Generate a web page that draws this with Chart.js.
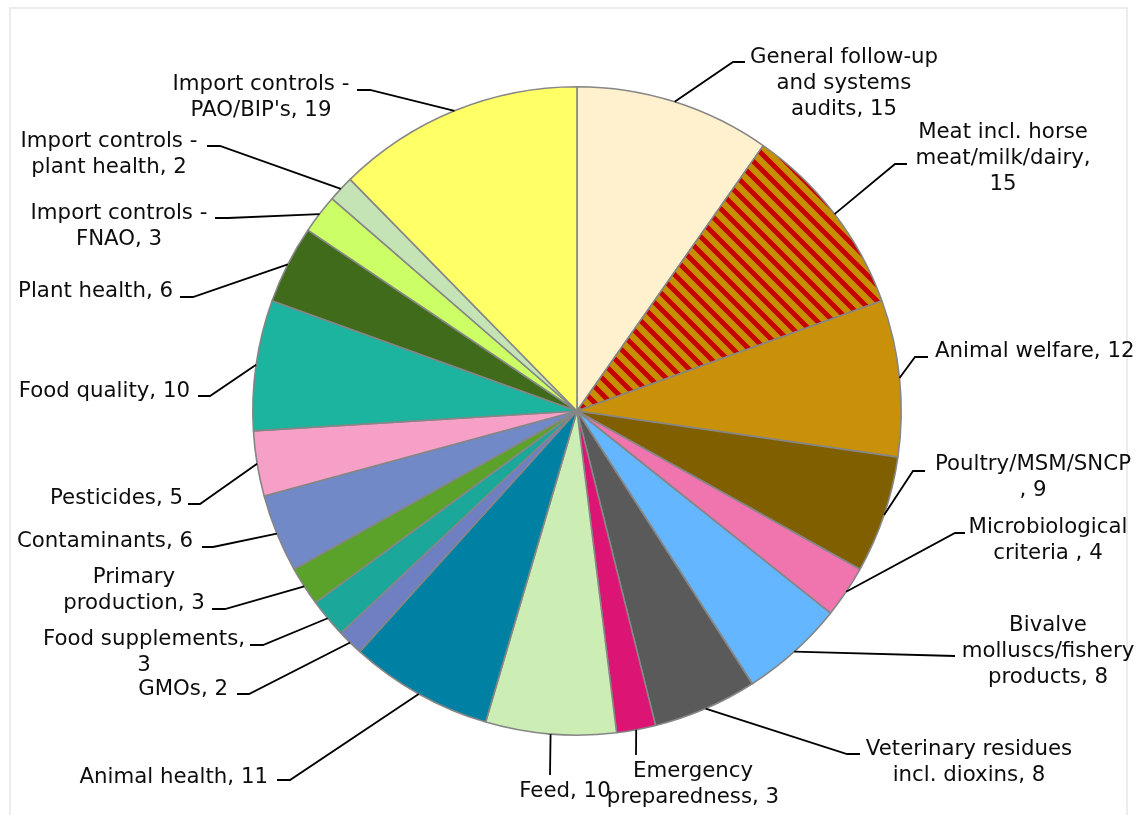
<!DOCTYPE html>
<html>
<head>
<meta charset="utf-8">
<script src="https://cdn.jsdelivr.net/npm/chart.js@4.4.0/dist/chart.umd.min.js"></script>
<style>
  html, body { margin: 0; padding: 0; background: #fff; }
  #frame {
    position: absolute; left: 9px; top: 7px; width: 1119px; height: 830px;
    border: 2px solid #ececec; box-sizing: border-box;
  }
  #pieChart { position: absolute; left: 0; top: 0; }
</style>
</head>
<body>
<div id="frame"></div>
<canvas id="pieChart" width="1136" height="815"></canvas>
<script>
  // Audit areas, clockwise from 12 o'clock (\n = where the label wraps)
  const categories = [
    'General follow-up\nand systems\naudits',
    'Meat incl. horse\nmeat/milk/dairy',
    'Animal welfare',
    'Poultry/MSM/SNCP',
    'Microbiological\ncriteria ',
    'Bivalve\nmolluscs/fishery\nproducts',
    'Veterinary residues\nincl. dioxins',
    'Emergency\npreparedness',
    'Feed',
    'Animal health',
    'GMOs',
    'Food supplements',
    'Primary\nproduction',
    'Contaminants',
    'Pesticides',
    'Food quality',
    'Plant health',
    'Import controls -\nFNAO',
    'Import controls -\nplant health',
    "Import controls -\nPAO/BIP's"
  ];

  const auditCounts = [15, 15, 12, 9, 4, 8, 8, 3, 10, 11, 2, 3, 3, 6, 5, 10, 6, 3, 2, 19];

  const sliceColors = [
    '#FFF0CE', 'hatch', '#C89109', '#7F5F00', '#F074AE',
    '#63B6FF', '#5A5A5A', '#DC1474', '#CCEDB4', '#0080A2',
    '#6F80C2', '#1BA89A', '#5BA22A', '#7289C8', '#F6A0C8',
    '#1CB39F', '#3F6B1B', '#CCFF66', '#C5E4B6', '#FFFF66'
  ];

  // Label placement, offsets in px from the pie centre.
  // elbow/tip describe the leader line; elbow null = straight line.
  const labelLayout = [
    { text: [267, -348], align: 'center', elbow: [156, -349], tip: [168, -349] },
    { text: [426, -273], align: 'center', elbow: [318, -247], tip: [330, -247], sep: ',\n' },
    { text: [358, -54], align: 'left', elbow: [338, -54], tip: [351, -54] },
    { text: [456, 59], align: 'center', elbow: [336, 60], tip: [348, 60], sep: '\n, ' },
    { text: [471, 122], align: 'center', elbow: [378, 122], tip: [388, 122] },
    { text: [471, 220], align: 'center', elbow: null, tip: [378, 245] },
    { text: [392, 344], align: 'center', elbow: [270, 343], tip: [283, 343] },
    { text: [116, 366], align: 'center', elbow: null, tip: [59, 344] },
    { text: [-12, 386], align: 'center', elbow: null, tip: [-27, 364] },
    { text: [-309, 372], align: 'right', elbow: [-287, 369], tip: [-300, 369] },
    { text: [-349, 284], align: 'right', elbow: [-328, 283], tip: [-340, 283] },
    { text: [-433, 234], align: 'center', elbow: [-314, 234], tip: [-327, 234], sep: ',\n' },
    { text: [-443, 172], align: 'center', elbow: [-352, 198], tip: [-365, 198] },
    { text: [-384, 136], align: 'right', elbow: [-364, 136], tip: [-375, 136] },
    { text: [-394, 93], align: 'right', elbow: [-377, 93], tip: [-389, 93] },
    { text: [-387, -14], align: 'right', elbow: [-367, -15], tip: [-379, -15] },
    { text: [-404, -114], align: 'right', elbow: [-384, -114], tip: [-397, -114] },
    { text: [-458, -192], align: 'center', elbow: [-349, -193], tip: [-362, -193] },
    { text: [-468, -264], align: 'center', elbow: [-357, -265], tip: [-370, -265] },
    { text: [-316, -321], align: 'center', elbow: [-207, -321], tip: [-220, -321] }
  ];

  const labelFont = '21.3px "DejaVu Sans", Verdana, sans-serif';
  const lineHeight = 26;

  // gold with red downward diagonal stripes
  const makeHatch = () => {
    const size = 16;
    const tile = document.createElement('canvas');
    tile.width = size;
    tile.height = size;
    const t = tile.getContext('2d');
    t.fillStyle = '#C68F00';
    t.fillRect(0, 0, size, size);
    t.strokeStyle = '#C40000';
    t.lineWidth = 5;
    [-size, 0, size].forEach(k => {
      t.beginPath();
      t.moveTo(k - 3, -3);
      t.lineTo(k + size + 3, size + 3);
      t.stroke();
    });
    return t.createPattern(tile, 'repeat');
  };

  const hatch = makeHatch();
  const fills = sliceColors.map(c => (c === 'hatch' ? hatch : c));

  const leaderLabels = {
    id: 'leaderLabels',
    afterDatasetsDraw(chart) {
      const ctx = chart.ctx;
      const arcs = chart.getDatasetMeta(0).data;
      ctx.save();
      ctx.font = labelFont;
      ctx.fillStyle = '#0d0d0d';
      ctx.strokeStyle = '#000';
      ctx.lineWidth = 1.8;
      ctx.textBaseline = 'alphabetic';
      arcs.forEach((arc, i) => {
        const lay = labelLayout[i];
        const { x, y, startAngle, endAngle, outerRadius } = arc.getProps(['x', 'y', 'startAngle', 'endAngle', 'outerRadius'], true);
        const mid = (startAngle + endAngle) / 2;

        ctx.beginPath();
        ctx.moveTo(x + Math.cos(mid) * outerRadius, y + Math.sin(mid) * outerRadius);
        if (lay.elbow) ctx.lineTo(x + lay.elbow[0], y + lay.elbow[1]);
        ctx.lineTo(x + lay.tip[0], y + lay.tip[1]);
        ctx.stroke();

        const text = categories[i] + (lay.sep || ', ') + auditCounts[i];
        ctx.textAlign = lay.align;
        text.split('\n').forEach((line, n) => {
          ctx.fillText(line, x + lay.text[0], y + lay.text[1] + n * lineHeight);
        });
      });
      ctx.restore();
    }
  };

  new Chart(document.getElementById('pieChart').getContext('2d'), {
    type: 'pie',
    data: {
      labels: categories.map(c => c.replace(/\n/g, ' ')),
      datasets: [{
        data: auditCounts,
        backgroundColor: fills,
        borderColor: '#868686',
        borderWidth: 1.6
      }]
    },
    options: {
      responsive: false,
      devicePixelRatio: 1,
      animation: false,
      layout: { padding: { left: 252, right: 234, top: 86, bottom: 79 } },
      plugins: {
        legend: { display: false },
        tooltip: { enabled: false }
      }
    },
    plugins: [leaderLabels]
  });
</script>
</body>
</html>
